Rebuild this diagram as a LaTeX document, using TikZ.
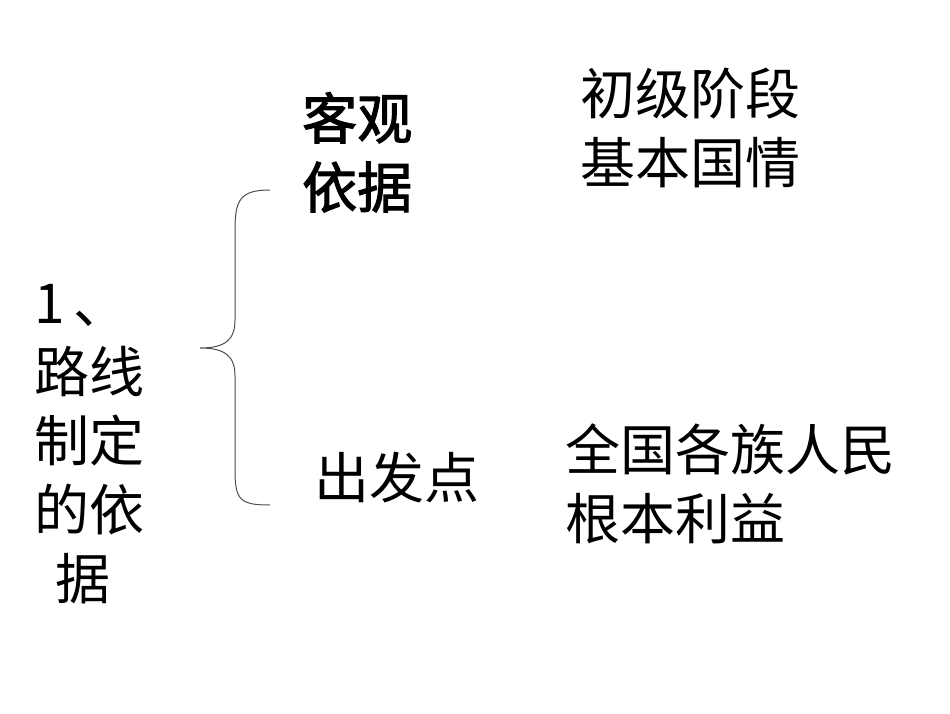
\documentclass[tikz,border=0pt]{standalone}
\usepackage{fontspec}
\newfontfamily\cjk{Noto Sans CJK SC}
\newfontfamily\cjkb{Noto Sans CJK SC}[FakeBold=2]
\begin{document}
\begin{tikzpicture}[x=1pt,y=-1pt,
  txt/.style={font=\cjk\fontsize{55}{69}\selectfont,inner sep=0pt,anchor=north west,align=left},
  brace/.style={draw=black!70,line width=1pt}]
\useasboundingbox (0,0) rectangle (950,713);
\node[txt] (left) at (34,284) {1\,、\\路线\\制定\\的依\\\ \,据};
\node[txt,font=\cjkb\fontsize{55}{69}\selectfont] (obj) at (302,92) {客观\\依据};
\node[txt] (start) at (314,452) {出发点};
\node[txt] (r1) at (580,68) {初级阶段\\基本国情};
\node[txt] (r2) at (565,423) {全国各族人民\\根本利益};
\coordinate (top) at (270,190);
\coordinate (bot) at (270,505);
\coordinate (tip) at (200,348);
\draw[brace] (top) .. controls (240,190) and (235,200) .. (235,230)
  -- (235,320) .. controls (235,340) and (225,348) .. (tip)
  .. controls (225,348) and (235,356) .. (235,376)
  -- (235,470) .. controls (235,500) and (240,505) .. (bot);
\end{tikzpicture}
\end{document}
